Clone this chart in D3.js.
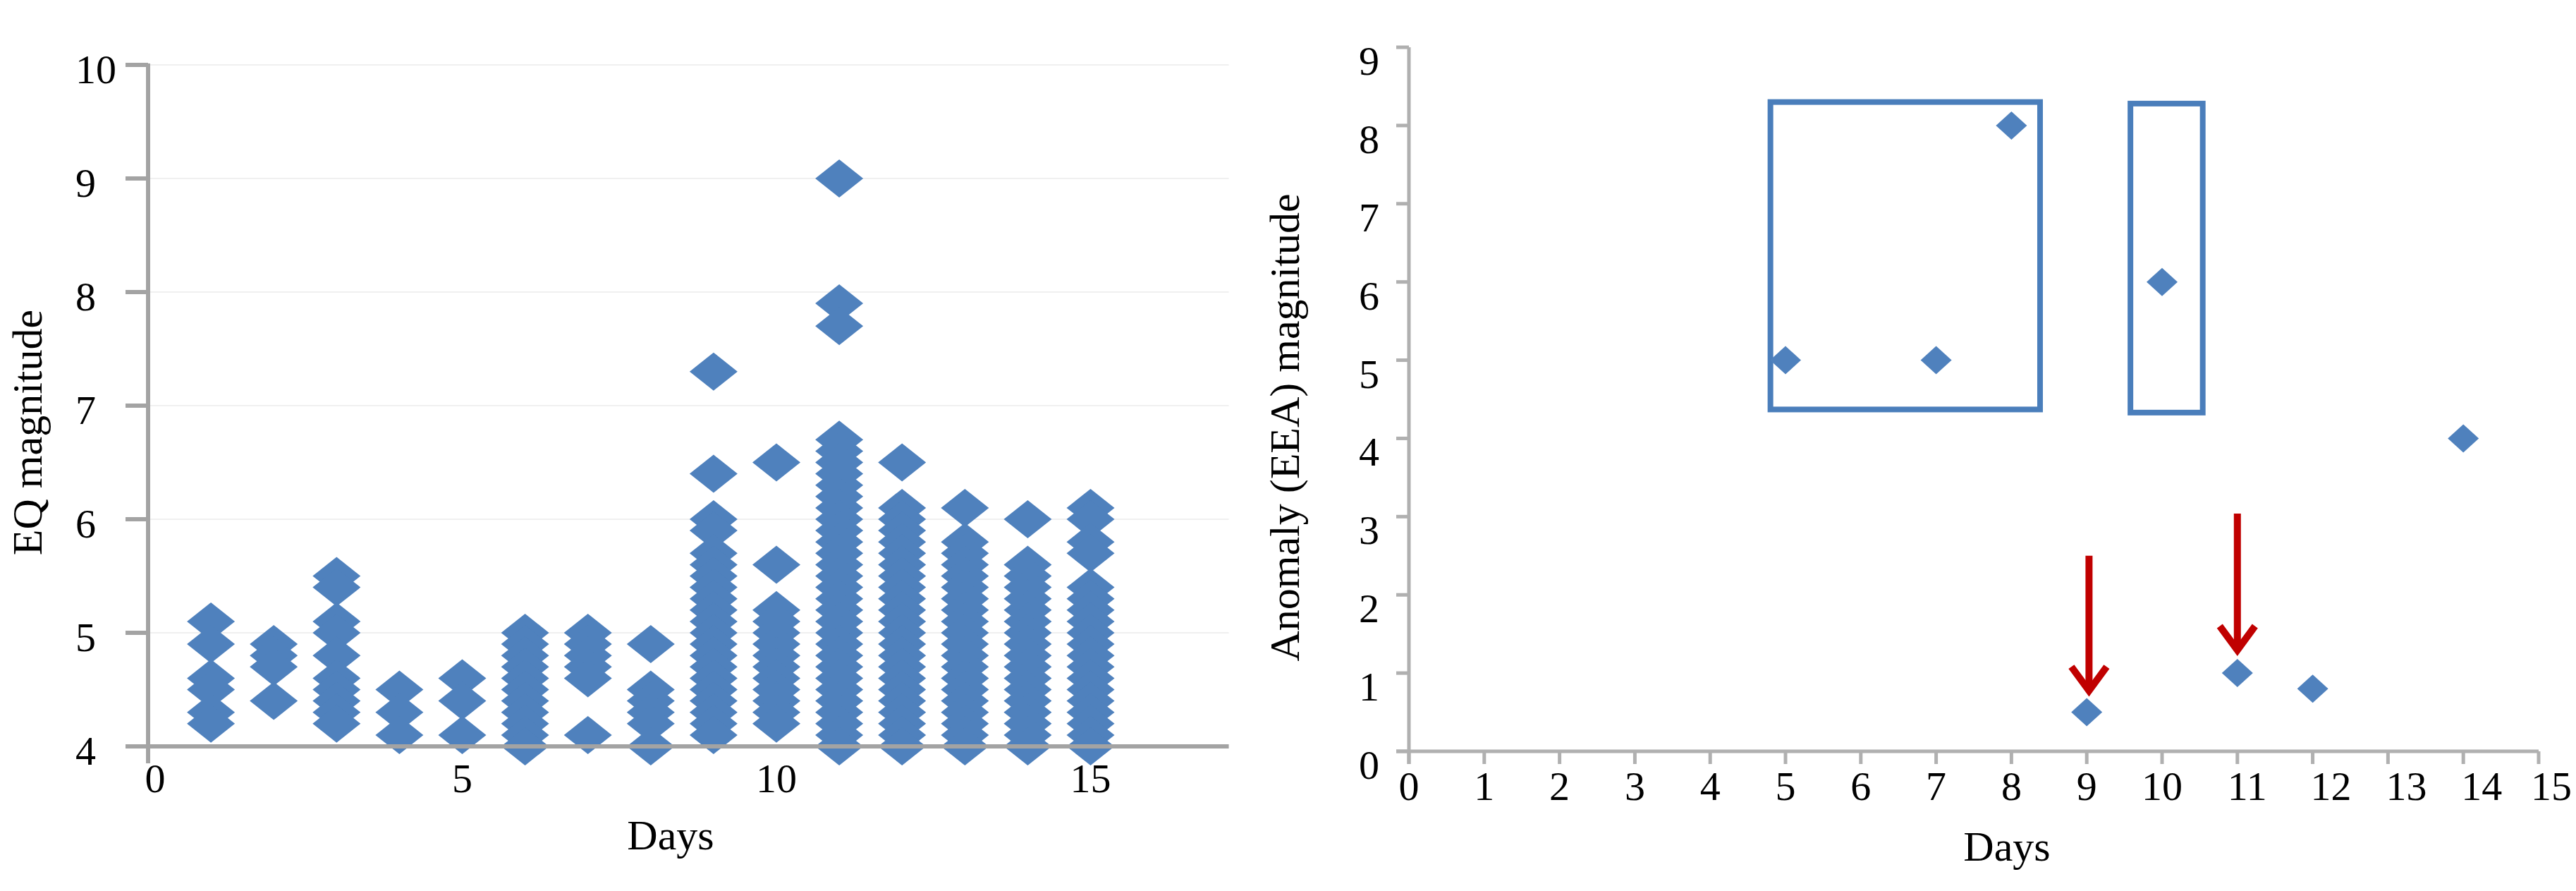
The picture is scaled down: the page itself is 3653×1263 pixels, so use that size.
<!DOCTYPE html>
<html><head><meta charset="utf-8">
<script src="https://cdn.jsdelivr.net/npm/d3@7"></script>
<style>
body{margin:0;background:#fff;}
svg{display:block;background:#fff;}
svg text{font-family:"Liberation Serif","Times New Roman","DejaVu Serif",serif !important;fill:#000;}
</style>
</head><body>
<svg id="c" width="3653" height="1263" font-family="Liberation Serif, Times New Roman, serif"></svg>
<script>
// ---------- Left chart data: EQ magnitude per day ----------
const eqDays = [1,2,3,4,5,6,7,8,9,10,11,12,13,14,15];
const eqDay1  = [5.1,4.9,4.6,4.5,4.3,4.2];
const eqDay2  = [4.9,4.8,4.7,4.4];
const eqDay3  = [5.5,5.4,5.1,5.0,4.8,4.6,4.5,4.4,4.3,4.2];
const eqDay4  = [4.5,4.3,4.1];
const eqDay5  = [4.6,4.4,4.1];
const eqDay6  = [5.0,4.9,4.8,4.7,4.6,4.5,4.4,4.3,4.2,4.1,4.0];
const eqDay7  = [5.0,4.9,4.8,4.7,4.6,4.1];
const eqDay8  = [4.9,4.5,4.4,4.3,4.2,4.0];
const eqDay9  = [7.3,6.4,6.0,5.9,5.7,5.6,5.5,5.4,5.3,5.2,5.1,5.0,4.9,4.8,4.7,4.6,4.5,4.4,4.3,4.2,4.1];
const eqDay10 = [6.5,5.6,5.2,5.1,5.0,4.9,4.8,4.7,4.6,4.5,4.4,4.3,4.2];
const eqDay11 = [9.0,7.9,7.7,6.7,6.6,6.5,6.4,6.3,6.2,6.1,6.0,5.9,5.8,5.7,5.6,5.5,5.4,5.3,5.2,5.1,5.0,4.9,4.8,4.7,4.6,4.5,4.4,4.3,4.2,4.1,4.0];
const eqDay12 = [6.5,6.1,6.0,5.9,5.8,5.7,5.6,5.5,5.4,5.3,5.2,5.1,5.0,4.9,4.8,4.7,4.6,4.5,4.4,4.3,4.2,4.1,4.0];
const eqDay13 = [6.1,5.8,5.7,5.6,5.5,5.4,5.3,5.2,5.1,5.0,4.9,4.8,4.7,4.6,4.5,4.4,4.3,4.2,4.1,4.0];
const eqDay14 = [6.0,5.6,5.5,5.4,5.3,5.2,5.1,5.0,4.9,4.8,4.7,4.6,4.5,4.4,4.3,4.2,4.1,4.0];
const eqDay15 = [6.1,6.0,5.8,5.7,5.4,5.3,5.2,5.1,5.0,4.9,4.8,4.7,4.6,4.5,4.4,4.3,4.2,4.1,4.0];
const eqByDay = [eqDay1,eqDay2,eqDay3,eqDay4,eqDay5,eqDay6,eqDay7,eqDay8,eqDay9,eqDay10,eqDay11,eqDay12,eqDay13,eqDay14,eqDay15];
const eqYTicks = [4,5,6,7,8,9,10];
const eqXTicks = [0,5,10,15];

// ---------- Right chart data: anomaly magnitude ----------
const anomDays = [5,7,8,9,10,11,12,14];
const anomMag  = [5,5,8,0.5,6,1,0.8,4];
const anomYTicks = [0,1,2,3,4,5,6,7,8,9];
const anomXTicks = [0,1,2,3,4,5,6,7,8,9,10,11,12,13,14,15];
// annotation boxes (data coords) and arrows
const boxes = [{x0:4.8,x1:8.38,y0:4.37,y1:8.3},{x0:9.58,x1:10.54,y0:4.33,y1:8.28}];
const arrows = [{x:9.03,yTop:2.5,yTip:0.72},{x:11.0,yTop:3.04,yTip:1.24}];

const FONT = '"Liberation Serif","Times New Roman",serif';
const svg = d3.select('#c');
const BLUE = '#4f81bd';
function diamond(cx, cy, hw, hh){
  return `M${cx},${cy-hh}L${cx+hw},${cy}L${cx},${cy+hh}L${cx-hw},${cy}Z`;
}

// ================= LEFT CHART =================
const xL = d3.scaleLinear().domain([0,17.2]).range([210, 210+17.2*89.1]);
const yL = d3.scaleLinear().domain([4,10]).range([1058, 92]);
const L = svg.append('g');
const axisGrey = '#a3a3a3';

L.selectAll('line.grid').data(eqYTicks.filter(v=>v>4)).join('line')
  .attr('x1', xL(0)).attr('x2', xL(17.2))
  .attr('y1', d=>yL(d)).attr('y2', d=>yL(d))
  .attr('stroke', '#f0f0f0').attr('stroke-width', 2);

const eqPts = [];
eqByDay.forEach((arr,i)=>arr.forEach(m=>eqPts.push({d:eqDays[i], m})));
L.selectAll('path.eq').data(eqPts).join('path')
  .attr('d', p=>diamond(xL(p.d), yL(p.m), 34, 27))
  .attr('fill', BLUE);

L.append('line').attr('x1', xL(0)-32).attr('x2', xL(17.2))
  .attr('y1', yL(4)).attr('y2', yL(4)).attr('stroke', axisGrey).attr('stroke-width', 6);
L.append('line').attr('x1', xL(0)).attr('x2', xL(0))
  .attr('y1', yL(10)-2).attr('y2', yL(4)+24).attr('stroke', axisGrey).attr('stroke-width', 6);
L.selectAll('line.yt').data(eqYTicks).join('line')
  .attr('x1', xL(0)-32).attr('x2', xL(0))
  .attr('y1', d=>yL(d)).attr('y2', d=>yL(d))
  .attr('stroke', axisGrey).attr('stroke-width', 6);
L.selectAll('text.yl').data(eqYTicks).join('text')
  .attr('x', 107).attr('y', d=>yL(d)+26)
  .attr('font-family', FONT).attr('font-size', 58).text(d=>d);
L.selectAll('text.xl').data(eqXTicks).join('text')
  .attr('x', d=>xL(d)+(d===0?10:0)).attr('y', 1123)
  .attr('text-anchor','middle').attr('font-family', FONT).attr('font-size', 58).text(d=>d);
L.append('text').attr('x', 951).attr('y', 1204).attr('text-anchor','middle')
  .attr('font-family', FONT).attr('font-size', 60).text('Days');
L.append('text').attr('transform','translate(59,613) rotate(-90)')
  .attr('text-anchor','middle').attr('font-family', FONT).attr('font-size', 60).text('EQ magnitude');

// ================= RIGHT CHART =================
const xR = d3.scaleLinear().domain([0,15]).range([1998, 3600]);
const yR = d3.scaleLinear().domain([0,9]).range([1065, 67]);
const R = svg.append('g');
const axisGrey2 = '#b0b0b0';

R.append('line').attr('x1', xR(0)-18).attr('x2', xR(15))
  .attr('y1', yR(0)).attr('y2', yR(0)).attr('stroke', axisGrey2).attr('stroke-width', 5);
R.append('line').attr('x1', xR(0)).attr('x2', xR(0))
  .attr('y1', yR(9)).attr('y2', yR(0)+18).attr('stroke', axisGrey2).attr('stroke-width', 5);
R.selectAll('line.yt').data(anomYTicks).join('line')
  .attr('x1', xR(0)-18).attr('x2', xR(0))
  .attr('y1', d=>yR(d)).attr('y2', d=>yR(d))
  .attr('stroke', axisGrey2).attr('stroke-width', 5);
R.selectAll('line.xt').data(anomXTicks).join('line')
  .attr('x1', d=>xR(d)).attr('x2', d=>xR(d))
  .attr('y1', yR(0)).attr('y2', yR(0)+18)
  .attr('stroke', axisGrey2).attr('stroke-width', 5);
R.selectAll('text.yl').data(anomYTicks).join('text')
  .attr('x', 1956).attr('y', d=>yR(d)+39)
  .attr('text-anchor','end').attr('font-family', FONT).attr('font-size', 58).text(d=>d);
R.selectAll('text.xl').data(anomXTicks).join('text')
  .attr('x', d=>xR(d)+(d===15?18:(d>=12?26:(d===11?14:0)))).attr('y', 1134)
  .attr('text-anchor','middle').attr('font-family', FONT).attr('font-size', 58).text(d=>d);
R.append('text').attr('x', 2846).attr('y', 1220).attr('text-anchor','middle')
  .attr('font-family', FONT).attr('font-size', 60).text('Days');
R.append('text').attr('transform','translate(1842,606) rotate(-90)')
  .attr('text-anchor','middle').attr('font-family', FONT).attr('font-size', 60).text('Anomaly (EEA) magnitude');

R.selectAll('rect.box').data(boxes).join('rect')
  .attr('x', b=>xR(b.x0)).attr('y', b=>yR(b.y1))
  .attr('width', b=>xR(b.x1)-xR(b.x0)).attr('height', b=>yR(b.y0)-yR(b.y1))
  .attr('fill','none').attr('stroke','#4a7ebb').attr('stroke-width', 8);

R.selectAll('path.an').data(anomDays.map((d,i)=>({d, m:anomMag[i]}))).join('path')
  .attr('d', p=>diamond(xR(p.d), yR(p.m), 22, 20))
  .attr('fill', BLUE);

const RED = '#c00000';
arrows.forEach(a=>{
  const x = xR(a.x), yt = yR(a.yTop), yp = yR(a.yTip);
  R.append('line').attr('x1', x).attr('x2', x).attr('y1', yt).attr('y2', yp-6)
    .attr('stroke', RED).attr('stroke-width', 10);
  R.append('polyline').attr('points', `${x-25},${yp-40} ${x},${yp-6} ${x+25},${yp-40}`)
    .attr('fill','none').attr('stroke', RED).attr('stroke-width', 10)
    .attr('stroke-linejoin','miter').attr('stroke-linecap','butt');
});
</script>
</body></html>
